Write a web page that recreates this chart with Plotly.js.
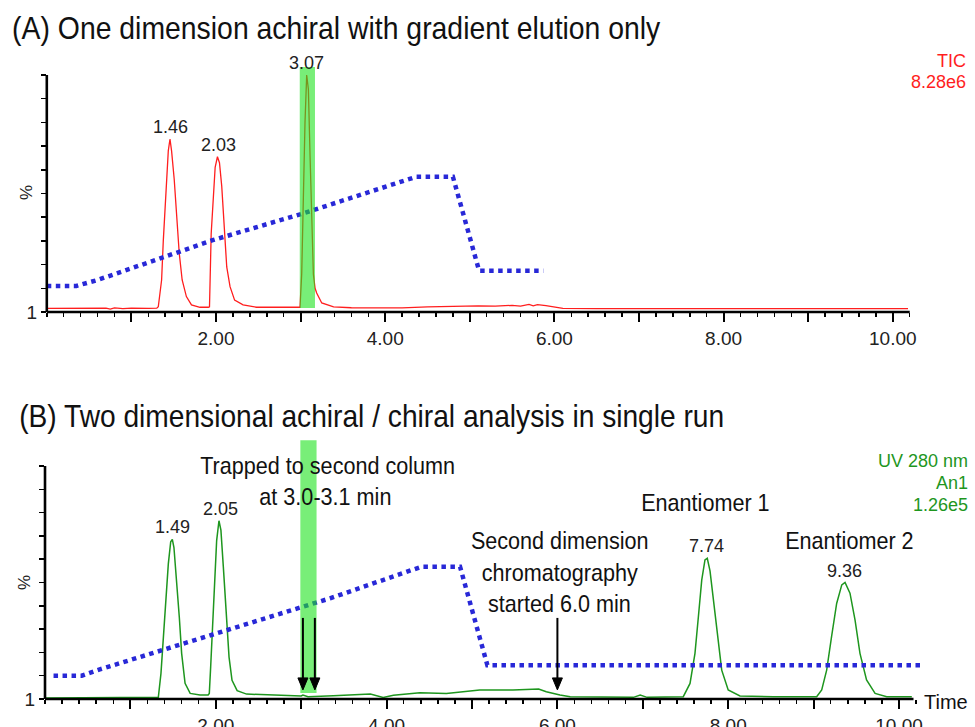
<!DOCTYPE html>
<html><head><meta charset="utf-8">
<script src="https://cdn.plot.ly/plotly-3.0.1.min.js"></script>
<style>html,body{margin:0;padding:0;background:#fff;}#chart{width:975px;height:727px;}</style>
</head><body><div id="chart"></div>
<script>
// ---------- Panel A : TIC (time, min / intensity, %) ----------
const ticTime = [0,0.3,0.7,0.75,0.8,0.9,1.0,1.2,1.3,
 1.318,1.357,1.377,1.405,1.436,1.456,1.475,1.506,1.534,1.565,1.600,1.65,1.71,1.81,1.91,
 1.923,1.943,1.962,1.99,2.017,2.041,2.068,2.095,2.127,2.166,2.22,2.32,2.48,2.95,
 2.993,3.013,3.033,3.052,3.072,3.092,3.112,3.131,3.151,3.171,3.19,3.25,3.39,
 3.6,3.9,4.2,4.5,4.7,4.9,5.1,5.3,5.5,5.6,5.7,5.75,5.8,5.9,6.0,6.1,6.5,7,8,9,10.18];
const ticIntensity = [1.5,1.5,1.6,1.2,1.7,1.4,1.6,1.5,1.6,
 2.2,13.5,30,51,68,73,68,56,40,25,13.5,6.5,3,2,2,
 2.2,33,47,61,65.5,63,53,36,19,10.7,5,3,2,2,
 2,16,51,80,100,94,65.5,37.5,16,10,8,3.8,2.2,
 1.8,1.9,1.7,2.2,2.4,2.3,2.6,2.5,2.8,2.5,3.2,2.6,3.1,2.7,2.0,1.5,1.4,1.4,1.4,1.4,1.4];
const gradATime = [0,0.35,0.6,1.34,1.97,3.03,4.37,4.8,5.11,5.87];
const gradAPercent = [11,11,13.5,22.6,30.4,41.6,57.1,57.1,17.4,17.4];
const peakTimesA = [1.46,2.03,3.07];
const peakHeightsA = [73,65.5,100];
const peakLabelsA = ['1.46','2.03','3.07'];
const trapWindowA = [2.99,3.17];
const trapBandA = [1.7,103.4];

// ---------- Panel B : UV 280 nm ----------
const uvTime = [0,0.5,1.0,1.3,
 1.327,1.358,1.386,1.417,1.444,1.472,1.491,1.51,1.542,1.573,1.60,1.64,1.70,1.815,1.91,
 1.924,1.94,1.96,1.982,2.01,2.037,2.06,2.088,2.12,2.155,2.19,2.25,2.36,2.6,3.0,
 3.02,3.08,3.376,3.81,3.96,4.08,4.39,4.70,5.09,5.48,5.78,5.87,6.03,6.15,6.89,6.97,7.05,7.44,
 7.474,7.553,7.611,7.65,7.69,7.728,7.755,7.787,7.826,7.873,7.924,8.0,8.138,8.53,9.036,
 9.095,9.153,9.21,9.27,9.33,9.368,9.426,9.485,9.543,9.62,9.72,9.856,10.15];
const uvIntensity = [0.4,0.4,0.4,0.5,
 0.7,11,25,42.5,58,67.5,68.5,65,51,35,19.6,6.7,2.4,1.7,1.7,
 2.4,13.9,31,51,68,76.5,72.5,56.8,36.8,18,8,3.6,2.1,1.7,1.3,
 1.7,1.0,1.4,2.1,0.7,1.6,2.7,2.4,3.9,3.9,4.3,3.1,1.7,1.0,0.7,1.7,0.7,0.7,
 1.0,6.7,19.6,35,51,59.7,60.4,55,42.5,26.7,12.4,3.9,1.3,1.0,1.0,
 3.9,12.4,26.7,41,49,50,45.4,34,19.6,8.2,2.4,1.0,1.0];
const gradBTime = [0.1,0.43,0.65,1.93,3.006,3.337,4.41,4.86,5.18,10.27];
const gradBPercent = [10,10,12.8,27.5,39.6,43.2,56.8,56.8,14.5,14.5];
const peakTimesB = [1.49,2.05,7.74,9.36];
const peakHeightsB = [68.5,76.5,60.4,50];
const peakLabelsB = ['1.49','2.05','7.74','9.36'];
const trapWindowB = [2.99,3.18];
const trapBandB = [2.6,111];
const trapArrowTimes = [3.02,3.16];
const secondDimStart = 6.0;
const arrowTail = 34.8, arrowTip = 3.9;

const xTickVals = [1,2,3,4,5,6,7,8,9,10];
const xTickText = ['','2.00','','4.00','','6.00','','8.00','','10.00'];
const yTickVals = [0,10,20,30,40,50,60,70,80,90,100];
const yTickText = ['1','','','','','','','','','',''];

// ---------- layout geometry ----------
const W = 975, H = 727;
const xRange = [0,10.3];
const domXA = [46.8/W, (46.8+10.3*84.6)/W];
const domYA = [(H-312)/H, (H-(312-106*2.37))/H];
const yRangeA = [0,106];
const domXB = [45/W, (45+10.3*85.4)/W];
const domYB = [(H-699)/H, (H-(699-112*2.33))/H];
const yRangeB = [0,112];
function px(dom, rng, v){ return dom[0] + (v-rng[0])/(rng[1]-rng[0])*(dom[1]-dom[0]); }

const RED = 'rgb(255,30,30)', GREEN = 'rgb(30,150,30)', BLUE = 'rgb(40,40,215)';
const SANS = '"Liberation Sans", Arial, sans-serif';
const tickFont = {family:SANS, size:19, color:'#222'};

const traces = [
 {x:ticTime, y:ticIntensity, xaxis:'x', yaxis:'y', mode:'lines', line:{color:RED, width:1.3}, hoverinfo:'skip'},
 {x:gradATime, y:gradAPercent, xaxis:'x', yaxis:'y', mode:'lines', line:{color:BLUE, width:4.5, dash:'4.5px,4.5px'}, hoverinfo:'skip'},
 {x:uvTime, y:uvIntensity, xaxis:'x2', yaxis:'y2', mode:'lines', line:{color:GREEN, width:1.5}, hoverinfo:'skip'},
 {x:gradBTime, y:gradBPercent, xaxis:'x2', yaxis:'y2', mode:'lines', line:{color:BLUE, width:4.5, dash:'4.5px,4.5px'}, hoverinfo:'skip'}
];

function xAxisDef(dom, anchor){
 return {domain:dom, anchor:anchor, range:xRange, showline:false, showgrid:false, zeroline:false,
  tickmode:'array', tickvals:xTickVals, ticktext:xTickText, ticks:'outside', ticklen:9, tickwidth:2, tickcolor:'#000',
  tickfont:tickFont, minor:{dtick:0.2, tick0:0, ticks:'outside', ticklen:4, tickwidth:1.5, tickcolor:'#000', showgrid:false}};
}
function yAxisDef(dom, anchor, rng){
 return {domain:dom, anchor:anchor, range:rng, showline:false, showgrid:false, zeroline:false,
  tickmode:'array', tickvals:yTickVals, ticktext:yTickText, ticks:'outside', ticklen:5, tickwidth:1.5, tickcolor:'#000',
  tickfont:tickFont};
}

const shapes = [];
shapes.push({type:'rect', xref:'x', yref:'y', x0:trapWindowA[0], x1:trapWindowA[1], y0:trapBandA[0], y1:trapBandA[1],
  fillcolor:'rgb(30,227,30)', opacity:0.6, line:{width:0}, layer:'above'});
shapes.push({type:'rect', xref:'x2', yref:'y2', x0:trapWindowB[0], x1:trapWindowB[1], y0:trapBandB[0], y1:trapBandB[1],
  fillcolor:'rgb(30,227,30)', opacity:0.6, line:{width:0}, layer:'above'});
const axLine = {color:'#000', width:2.6};
shapes.push({type:'line', xref:'paper', yref:'paper', x0:px(domXA,xRange,0), x1:px(domXA,xRange,10.2), y0:domYA[0], y1:domYA[0], line:axLine});
shapes.push({type:'line', xref:'paper', yref:'paper', x0:domXA[0], x1:domXA[0], y0:domYA[0], y1:px(domYA,yRangeA,100), line:axLine});
shapes.push({type:'line', xref:'paper', yref:'paper', x0:px(domXB,xRange,0), x1:px(domXB,xRange,10.17), y0:domYB[0], y1:domYB[0], line:axLine});
shapes.push({type:'line', xref:'paper', yref:'paper', x0:domXB[0], x1:domXB[0], y0:domYB[0], y1:px(domYB,yRangeB,100), line:axLine});
const headLen = 12/2.33, headHalf = 5/85.4;
[...trapArrowTimes, secondDimStart].forEach(t => {
 shapes.push({type:'line', xref:'x2', yref:'y2', x0:t, x1:t, y0:arrowTail, y1:arrowTip+headLen*0.8, line:{color:'#000', width:2}});
 shapes.push({type:'path', xref:'x2', yref:'y2',
   path:`M ${t} ${arrowTip} L ${t-headHalf} ${arrowTip+headLen} L ${t+headHalf} ${arrowTip+headLen} Z`,
   fillcolor:'#000', line:{color:'#000', width:1}});
});

const annotations = [];
const condensed = {};   // annotation index -> horizontal scale (emulates a narrow typeface)
function txt(t, x, y, opts, squeeze){
 annotations.push(Object.assign({text:t, x:x/W, y:(H-y)/H, xref:'paper', yref:'paper', showarrow:false, xanchor:'center', yanchor:'middle'}, opts||{}));
 if (squeeze) condensed[annotations.length-1] = squeeze;
}
const annFont = {family:SANS, size:24, color:'#111'};
const titleFont = {family:SANS, size:32, color:'#111'};
txt('(A) One dimension achiral with gradient elution only', 10, 28, {xanchor:'left', font:titleFont}, 0.887);
txt('(B) Two dimensional achiral / chiral analysis in single run', 17, 416, {xanchor:'left', font:titleFont}, 0.88);
txt('TIC', 968, 61, {xanchor:'right', font:{family:SANS, size:18, color:RED}});
txt('8.28e6', 968, 82, {xanchor:'right', font:{family:SANS, size:18, color:RED}});
txt('UV 280 nm', 970, 461, {xanchor:'right', font:{family:SANS, size:18, color:GREEN}});
txt('An1', 970, 483, {xanchor:'right', font:{family:SANS, size:18, color:GREEN}});
txt('1.26e5', 970, 505, {xanchor:'right', font:{family:SANS, size:18, color:GREEN}});
txt('%', 26, 193, {textangle:-90, font:{family:SANS, size:17, color:'#222'}});
txt('%', 24, 583, {textangle:-90, font:{family:SANS, size:17, color:'#222'}});
txt('Trapped to second column', 327, 465, {font:annFont}, 0.9);
txt('at 3.0-3.1 min', 325, 497, {font:annFont}, 0.9);
txt('Second dimension', 559, 540, {font:annFont}, 0.9);
txt('chromatography', 559, 572, {font:annFont}, 0.9);
txt('started 6.0 min', 559, 603, {font:annFont}, 0.9);
txt('Enantiomer 1', 705, 502, {font:annFont}, 0.9);
txt('Enantiomer 2', 849, 540, {font:annFont}, 0.9);
txt('Time', 922, 702, {xanchor:'left', font:{family:SANS, size:20, color:'#111'}});

const peakFont = {family:SANS, size:18, color:'#222'};
peakTimesA.forEach((t,i)=>annotations.push({text:peakLabelsA[i], x:t, y:peakHeightsA[i], xref:'x', yref:'y', showarrow:false, yanchor:'middle', yshift:12, font:peakFont}));
peakTimesB.forEach((t,i)=>annotations.push({text:peakLabelsB[i], x:t, y:peakHeightsB[i], xref:'x2', yref:'y2', showarrow:false, yanchor:'middle', yshift:12, font:peakFont}));

const layout = {
 width:W, height:H, margin:{l:0,r:0,t:0,b:0}, paper_bgcolor:'#fff', plot_bgcolor:'rgba(0,0,0,0)', showlegend:false,
 xaxis:xAxisDef(domXA,'y'), yaxis:yAxisDef(domYA,'x',yRangeA),
 xaxis2:xAxisDef(domXB,'y2'), yaxis2:yAxisDef(domYB,'x2',yRangeB),
 shapes:shapes, annotations:annotations
};
Plotly.newPlot('chart', traces, layout, {staticPlot:true, displayModeBar:false}).then(() => {
 document.querySelectorAll('#chart g.annotation').forEach(g => {
  const idx = +g.getAttribute('data-index');
  const s = condensed[idx];
  if (!s) return;
  const t = g.querySelector('text.annotation-text');
  if (!t) return;
  const bb = t.getBBox();
  const ax = annotations[idx].xanchor === 'left' ? bb.x : bb.x + bb.width/2;
  const prev = t.getAttribute('transform') || '';
  t.setAttribute('transform', `${prev} translate(${ax},0) scale(${s},1) translate(${-ax},0)`.trim());
 });
});
</script></body></html>
